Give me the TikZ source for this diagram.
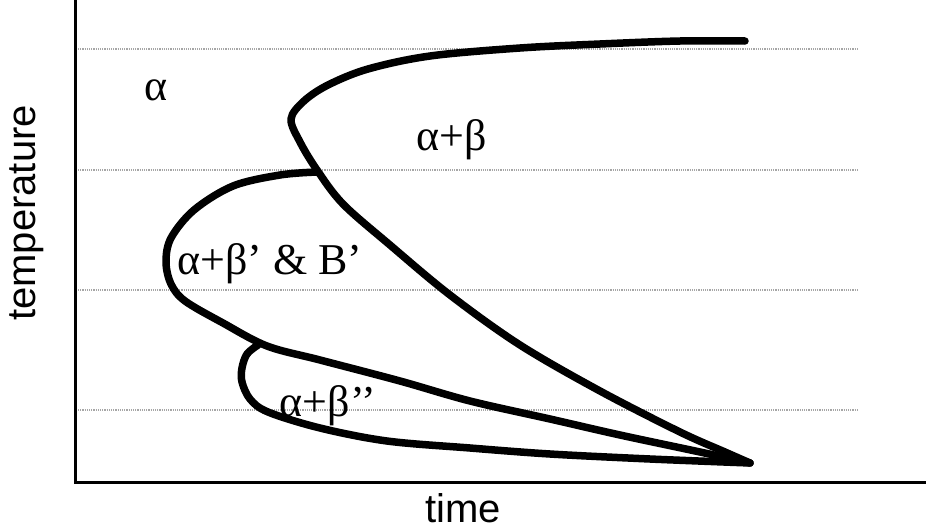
\documentclass[tikz,border=0pt]{standalone}
\usepackage{fontspec}
\setmainfont{Liberation Serif}
\newfontfamily\arialf{Liberation Sans}
\begin{document}
\begin{tikzpicture}[x=1pt,y=-1pt,
  axisline/.style={line width=3pt,black},
  gridline/.style={line width=1.2pt,gray!70,densely dotted},
  phase/.style={line width=7.5pt,black,line cap=round,line join=round},
  lab/.style={font=\fontsize{44}{52}\selectfont,anchor=base,inner sep=0pt},
  axlab/.style={font=\arialf\fontsize{40}{48}\selectfont,anchor=base,inner sep=0pt}]
\useasboundingbox (0,0) rectangle (926,530);
% grid
\foreach \yy in {49,170,290,410}
  \draw[gridline] (78,\yy) -- (858,\yy);
% axes
\coordinate (o) at (75,482);
\coordinate (ytop) at (75,0);
\coordinate (xend) at (926,482);
\draw[axisline] (ytop) -- (o) -- (xend);
% alpha / alpha+beta boundary
\draw[phase] plot[smooth,tension=0.55] coordinates {
 (745,41) (680,41) (600,44) (520,48) (430,56) (368,69) (328,85) (304,101)
 (291,119) (300,142) (317,170) (343,204) (390,245) (450,295) (520,345)
 (600,391) (680,432) (725,452) (750,463)};
% alpha+beta' loop
\draw[phase] plot[smooth,tension=0.55] coordinates {
 (317,172) (280,175) (233,186) (194,210) (171,238) (166,262) (171,284)
 (185,301) (223,323) (267,346) (320,360) (400,381) (470,401) (550,419)
 (620,435) (700,452) (750,463)};
% alpha+beta'' loop
\draw[phase] plot[smooth,tension=0.55] coordinates {
 (258,345) (247,354) (242,368) (242,382) (250,399) (268,412) (320,428)
 (387,441) (470,448) (550,454) (650,459) (750,463)};
% labels
\node[lab] (la) at (156,100) {α};
\node[lab] (lab1) at (452,150) {α+β};
\node[lab] (lab2) at (270,274) {α+β’ \& B’};
\node[lab] (lab3) at (328,416) {α+β’’};
\node[axlab] (xl) at (463,522) {time};
\node[axlab,rotate=90] (yl) at (35,213) {temperature};
\end{tikzpicture}
\end{document}
